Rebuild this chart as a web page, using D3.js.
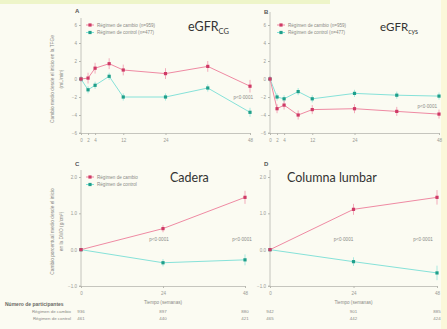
<!DOCTYPE html>
<html>
<head>
<meta charset="utf-8">
<script src="https://cdn.jsdelivr.net/npm/d3@7"></script>
<style>
  html, body { margin: 0; padding: 0; background: #fbfbf2; }
  svg { display: block; font-family: "Liberation Sans", Arial, sans-serif; }
</style>
</head>
<body>
<svg id="chart" width="447" height="329"></svg>
<script>
// Weeks of follow-up
const weeks = [0, 2, 4, 8, 12, 24, 36, 48];
const weekTicks = [0, 2, 4, 12, 24, 48];
const bmdWeeks = [0, 24, 48];

// eGFR (Cockcroft-Gault), mean change from baseline (mL/min)
const egfrCgSwitch  = [0, 0.1, 1.2, 1.7, 1.0, 0.6, 1.4, -0.8];
const egfrCgControl = [0, -1.2, -0.7, 0.3, -2.0, -2.0, -1.0, -3.7];
const egfrCgSwitchErr  = [0.3, 0.6, 0.6, 0.6, 0.6, 0.6, 0.6, 0.7];
const egfrCgControlErr = [0.3, 0.4, 0.4, 0.4, 0.4, 0.4, 0.4, 0.5];

// eGFR (cystatin C), mean change from baseline
const egfrCysSwitch  = [0, -3.3, -2.9, -4.0, -3.4, -3.3, -3.6, -3.9];
const egfrCysControl = [0, -2.0, -2.2, -1.4, -2.2, -1.6, -1.8, -1.9];
const egfrCysSwitchErr  = [0.3, 0.5, 0.5, 0.5, 0.5, 0.5, 0.5, 0.5];
const egfrCysControlErr = [0.3, 0.4, 0.4, 0.4, 0.4, 0.4, 0.4, 0.4];

// Bone mineral density, mean % change from baseline
const hipSwitch    = [0, 0.58, 1.44];
const hipControl   = [0, -0.36, -0.28];
const spineSwitch  = [0, 1.11, 1.44];
const spineControl = [0, -0.33, -0.64];
const hipSwitchErr    = [0.02, 0.1, 0.18];
const hipControlErr   = [0.02, 0.1, 0.15];
const spineSwitchErr  = [0.02, 0.15, 0.2];
const spineControlErr = [0.02, 0.12, 0.2];

// Participants at each BMD visit
const hipCountSwitch    = [936, 897, 880];
const hipCountControl   = [461, 440, 421];
const spineCountSwitch  = [942, 901, 885];
const spineCountControl = [465, 442, 424];

const yTicksEgfr = [-6, -4, -2, 0, 2, 4, 6];
const yTicksBmd = [-1, 0, 1, 2];

const seriesNames = ["Régimen de cambio (n=959)", "Régimen de control (n=477)"];
const seriesShort = ["Régimen de cambio", "Régimen de control"];

const RED = "#cf3a66", RED_LINE = "#ef8aa3";
const CYAN = "#1f9f8a", CYAN_LINE = "#86e2d9";

const svg = d3.select("#chart");

// page tint strips
svg.append("rect").attr("x", 0).attr("y", 0).attr("width", 330).attr("height", 4).attr("fill", "#eef5c9");
svg.append("rect").attr("x", 441).attr("y", 0).attr("width", 6).attr("height", 329).attr("fill", "#fbf7da");

function panel(opts) {
  const g = svg.append("g");
  const x = d3.scaleLinear().domain([0, 48]).range(opts.xr);
  const y = d3.scaleLinear().domain(opts.yd).range(opts.yr);

  // axes
  const ax = d3.axisBottom(x).tickValues(opts.xticks).tickSize(2).tickPadding(4).tickFormat(d3.format("d"));
  const xg = g.append("g").attr("transform", `translate(0,${opts.yr[0]})`).call(ax);
  const ay = d3.axisLeft(y).tickValues(opts.yticks).tickSize(2).tickPadding(2);
  const yg = g.append("g").attr("transform", `translate(${opts.xr[0]},0)`).call(ay);
  [xg, yg].forEach(a => {
    a.select(".domain").attr("stroke", "#b8b8b0").attr("stroke-width", 0.8);
    a.selectAll(".tick line").attr("stroke", "#b8b8b0");
    a.selectAll(".tick text").attr("fill", "#9a9a94").attr("font-size", 4.5);
  });
  if (opts.axisTop !== undefined) {
    yg.select(".domain").attr("d", `M-2,${opts.yr[0]}H0V${opts.axisTop}`);
  }

  // panel letter
  g.append("text").attr("x", opts.xr[0] - 6).attr("y", opts.letterY)
    .attr("font-size", 6).attr("font-weight", "bold").attr("fill", "#555").text(opts.letter);

  // title
  const t = g.append("text").attr("x", opts.titleX).attr("y", opts.titleY)
    .attr("font-family", "Lato, 'Liberation Sans', sans-serif")
    .attr("font-size", opts.titleSize).attr("fill", "#333");
  t.append("tspan").text(opts.title);
  if (opts.titleSub) t.append("tspan").attr("dy", 3).attr("font-size", opts.titleSize * 0.6).text(opts.titleSub);

  // series
  const series = [
    {vals: opts.s1, err: opts.e1, c: RED, lc: RED_LINE},
    {vals: opts.s2, err: opts.e2, c: CYAN, lc: CYAN_LINE}
  ];
  const line = d3.line().x(d => x(d[0])).y(d => y(d[1]));
  series.slice().reverse().forEach(s => {
    const pts = opts.weeks.map((w, i) => [w, s.vals[i], s.err[i]]);
    g.append("path").datum(pts).attr("d", line).attr("fill", "none")
      .attr("stroke", s.lc).attr("stroke-width", 1);
    g.selectAll(null).data(pts).join("line")
      .attr("x1", d => x(d[0])).attr("x2", d => x(d[0]))
      .attr("y1", d => y(d[1] - d[2])).attr("y2", d => y(d[1] + d[2]))
      .attr("stroke", s.lc).attr("stroke-width", 0.7);
    g.selectAll(null).data(pts).join("rect")
      .attr("x", d => x(d[0]) - 1.6).attr("y", d => y(d[1]) - 1.6)
      .attr("width", 3.2).attr("height", 3.2).attr("fill", s.c);
  });

  // legend
  opts.legend.forEach((name, i) => {
    const ly = opts.legendY + i * 7.5;
    const lx = opts.legendX;
    const c = i === 0 ? RED : CYAN, lc = i === 0 ? RED_LINE : CYAN_LINE;
    g.append("line").attr("x1", lx - 4).attr("x2", lx + 4).attr("y1", ly).attr("y2", ly)
      .attr("stroke", lc).attr("stroke-width", 1);
    g.append("rect").attr("x", lx - 1.6).attr("y", ly - 1.6).attr("width", 3.2).attr("height", 3.2).attr("fill", c);
    g.append("text").attr("x", lx + 7).attr("y", ly + 1.6).attr("font-size", 4.6)
      .attr("fill", "#8a8a86").text(name);
  });

  // p values
  opts.pvals.forEach(p => {
    g.append("text").attr("x", x(p.w) + (p.dx || 0)).attr("y", p.y).attr("text-anchor", p.anchor || "middle")
      .attr("font-size", 4.6).attr("fill", "#8a8a86").text(p.t);
  });

  // x label
  if (opts.xlabel) {
    g.append("text").attr("x", x(24)).attr("y", opts.yr[0] + 18).attr("text-anchor", "middle")
      .attr("font-size", 4.6).attr("fill", "#8a8a86").text(opts.xlabel);
  }

  // y label
  if (opts.ylabel) {
    const cy = (opts.yr[0] + opts.yr[1]) / 2;
    opts.ylabel.forEach((ln, i) => {
      g.append("text").attr("transform", `translate(${opts.ylabelX + i * 9},${cy}) rotate(-90)`)
        .attr("text-anchor", "middle").attr("font-size", 4.8).attr("fill", "#8a8a86").text(ln);
    });
  }

  // participant counts
  if (opts.counts) {
    opts.counts.forEach((row, r) => {
      g.selectAll(null).data(opts.weeks).join("text")
        .attr("x", w => x(w)).attr("y", 313 + r * 6.5).attr("text-anchor", "middle")
        .attr("font-size", 4.4).attr("fill", "#8a8a86").text((w, i) => row[i]);
    });
  }
  return {x, y};
}

// A: eGFR Cockcroft-Gault
panel({
  xr: [81, 250], yr: [133, 25], yd: [-6, 6], axisTop: 18,
  xticks: weekTicks, yticks: yTicksEgfr, weeks,
  s1: egfrCgSwitch, e1: egfrCgSwitchErr, s2: egfrCgControl, e2: egfrCgControlErr,
  letter: "A", letterY: 13,
  title: "eGFR", titleSub: "CG", titleX: 188, titleY: 31, titleSize: 12.5,
  legend: seriesNames, legendX: 90, legendY: 25,
  pvals: [{w: 48, dx: 3, y: 99, t: "p<0·0001", anchor: "end"}],
  ylabel: ["Cambio medio desde el inicio en la TFGe", "(mL/min)"], ylabelX: 54
});

// B: eGFR cystatin C
panel({
  xr: [270, 439], yr: [133, 25], yd: [-6, 6], axisTop: 12,
  xticks: weekTicks, yticks: yTicksEgfr, weeks,
  s1: egfrCysSwitch, e1: egfrCysSwitchErr, s2: egfrCysControl, e2: egfrCysControlErr,
  letter: "B", letterY: 14,
  title: "eGFR", titleSub: "cys", titleX: 380, titleY: 31, titleSize: 11.5,
  legend: seriesNames, legendX: 281, legendY: 25,
  pvals: [{w: 48, dx: -2, y: 108, t: "p<0·0001", anchor: "end"}]
});

// C: hip BMD
panel({
  xr: [81, 245], yr: [286, 177], yd: [-1, 2], axisTop: 170,
  xticks: bmdWeeks, yticks: yTicksBmd, weeks: bmdWeeks,
  s1: hipSwitch, e1: hipSwitchErr, s2: hipControl, e2: hipControlErr,
  letter: "C", letterY: 166,
  title: "Cadera", titleX: 170, titleY: 182, titleSize: 12.5,
  legend: seriesShort, legendX: 90, legendY: 177,
  pvals: [{w: 24, dx: -4, y: 241, t: "p<0·0001"}, {w: 48, dx: -3, y: 241, t: "p<0·0001"}],
  xlabel: "Tiempo (semanas)",
  ylabel: ["Cambio porcentual medio desde el inicio", "en la DMO (g/cm²)"], ylabelX: 54,
  counts: [hipCountSwitch, hipCountControl]
});

// D: lumbar spine BMD
panel({
  xr: [270, 437], yr: [286, 177], yd: [-1, 2], axisTop: 170,
  xticks: bmdWeeks, yticks: yTicksBmd, weeks: bmdWeeks,
  s1: spineSwitch, e1: spineSwitchErr, s2: spineControl, e2: spineControlErr,
  letter: "D", letterY: 166,
  title: "Columna lumbar", titleX: 287, titleY: 182, titleSize: 12.5,
  legend: [], legendX: 0, legendY: 0,
  pvals: [{w: 24, dx: -10, y: 241, t: "p<0·0001"}, {w: 48, dx: -14, y: 241, t: "p<0·0001"}],
  xlabel: "Tiempo (semanas)",
  counts: [spineCountSwitch, spineCountControl]
});

// participants table labels
svg.append("text").attr("x", 5).attr("y", 306).attr("font-size", 5).attr("font-weight", "bold")
  .attr("fill", "#6a6a66").text("Número de participantes");
seriesShort.forEach((n, i) => {
  svg.append("text").attr("x", 71).attr("y", 313 + i * 6.5).attr("text-anchor", "end")
    .attr("font-size", 4.4).attr("fill", "#8a8a86").text(n);
});
</script>
</body>
</html>
